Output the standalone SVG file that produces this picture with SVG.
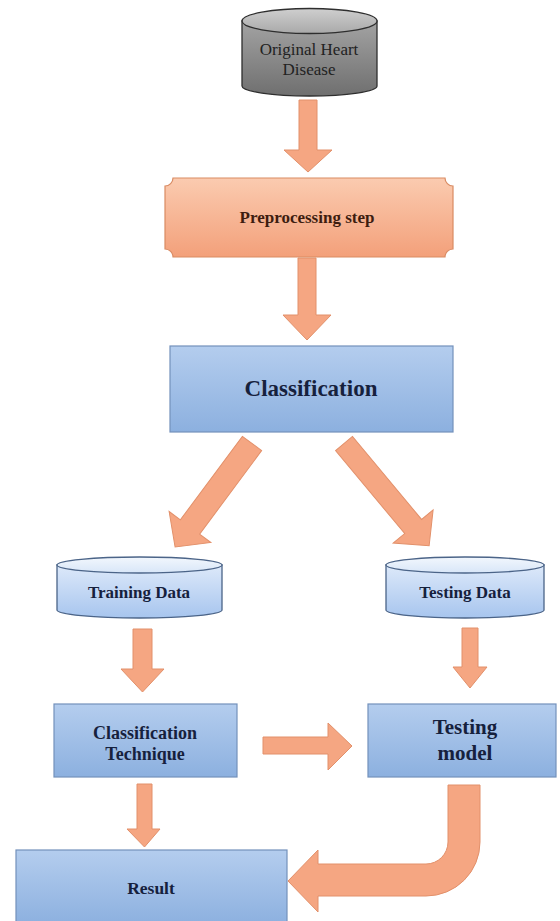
<svg xmlns="http://www.w3.org/2000/svg" width="560" height="921" viewBox="0 0 560 921">
<defs>
<linearGradient id="grayBody" x1="0" y1="0" x2="0" y2="1"><stop offset="0" stop-color="#a3a3a3"/><stop offset="1" stop-color="#6f6f6f"/></linearGradient>
<linearGradient id="grayTop" x1="0" y1="0" x2="0" y2="1"><stop offset="0" stop-color="#cfcfcf"/><stop offset="1" stop-color="#a9a9a9"/></linearGradient>
<linearGradient id="orange" x1="0" y1="0" x2="0" y2="1"><stop offset="0" stop-color="#fbcbb0"/><stop offset="1" stop-color="#f3a07a"/></linearGradient>
<linearGradient id="blueBox" x1="0" y1="0" x2="0" y2="1"><stop offset="0" stop-color="#b4cdee"/><stop offset="1" stop-color="#8cb0df"/></linearGradient>
<linearGradient id="blueCyl" x1="0" y1="0" x2="0" y2="1"><stop offset="0" stop-color="#dde9fa"/><stop offset="1" stop-color="#a7c5ee"/></linearGradient>
<linearGradient id="blueTop" x1="0" y1="0" x2="0" y2="1"><stop offset="0" stop-color="#f2f7fd"/><stop offset="1" stop-color="#d8e6f8"/></linearGradient>
</defs>
<style>
.arrow{fill:#f5a682;stroke:#e2906a;stroke-width:1}
.box{fill:url(#blueBox);stroke:#7391bb;stroke-width:1.2}
.cyl{fill:url(#blueCyl);stroke:#4b6488;stroke-width:1.3}
.cyltop{fill:url(#blueTop);stroke:#4b6488;stroke-width:1.3}
.t{font-family:"Liberation Serif","Times New Roman",serif;text-anchor:middle}
.b{font-weight:bold;fill:#16213d}
</style>
<rect width="560" height="921" fill="#ffffff"/>

<g id="connectors">
<path class="arrow" d="M299,100 H317 V150 H332 L308,172 L284,150 H299 Z"/>
<path class="arrow" d="M298,258 H316 V315 H331 L307,340 L283,315 H298 Z"/>
<path class="arrow" transform="translate(252,443.5) rotate(36.6)" d="M-12,0 H12 V104 H26 L0,129 L-26,104 H-12 Z"/>
<path class="arrow" transform="translate(344,443.5) rotate(-39.8)" d="M-11,0 H11 V108 H26 L0,133 L-26,108 H-11 Z"/>
<path class="arrow" d="M133,629 H152 V669 H164 L142.5,692 L121,669 H133 Z"/>
<path class="arrow" d="M462,628 H478 V667 H487 L470,688 L453,667 H462 Z"/>
<path class="arrow" d="M263,737 H328 V723 L352,746 L328,770 V754 H263 Z"/>
<path class="arrow" d="M137,784 H152 V829 H160 L144.5,847 L127,829 H137 Z"/>
<path class="arrow" d="M448,785 H480 V842 A54 54 0 0 1 426,896 H318 V912 L288,881 L318,850 V864 H426 A22 22 0 0 0 448,842 Z"/>
</g>

<g id="original">
<path d="M242,21 V86 A67.5 10 0 0 0 377,86 V21 Z" fill="url(#grayBody)" stroke="#2e2e2e" stroke-width="1.3"/>
<ellipse cx="309.5" cy="21" rx="67.5" ry="12.5" fill="url(#grayTop)" stroke="#2e2e2e" stroke-width="1.3"/>
<text class="t" x="309" y="55" font-size="17" fill="#222">Original Heart</text>
<text class="t" x="309" y="75" font-size="17" fill="#222">Disease</text>
</g>

<g id="preprocessing">
<path d="M173,178 H445 A8 8 0 0 0 453,186 V249 A8 8 0 0 0 445,257 H173 A8 8 0 0 0 165,249 V186 A8 8 0 0 0 173,178 Z" fill="url(#orange)" stroke="#d98b63" stroke-width="1.2"/>
<text class="t" x="307" y="223" font-size="17" font-weight="bold" fill="#3e1d10">Preprocessing step</text>
</g>

<g id="classification">
<rect class="box" x="170" y="346" width="283" height="86"/>
<text class="t b" x="311" y="396" font-size="23">Classification</text>
</g>

<g id="training">
<path class="cyl" d="M57,565 V610 A82.5 8 0 0 0 222,610 V565 Z"/>
<ellipse class="cyltop" cx="139.5" cy="565" rx="82.5" ry="8"/>
<text class="t b" x="139" y="598" font-size="17">Training Data</text>
</g>

<g id="testing-data">
<path class="cyl" d="M386,565 V610 A79 8 0 0 0 544,610 V565 Z"/>
<ellipse class="cyltop" cx="465" cy="565" rx="79" ry="8"/>
<text class="t b" x="465" y="598" font-size="17">Testing Data</text>
</g>

<g id="technique">
<rect class="box" x="54" y="704" width="183" height="73"/>
<text class="t b" x="145" y="739" font-size="18">Classification</text>
<text class="t b" x="145" y="760" font-size="18">Technique</text>
</g>

<g id="testing-model">
<rect class="box" x="368" y="704" width="188" height="73"/>
<text class="t b" x="465" y="734" font-size="21">Testing</text>
<text class="t b" x="465" y="760" font-size="21">model</text>
</g>

<g id="result">
<rect class="box" x="16" y="850" width="271" height="75"/>
<text class="t b" x="151" y="894" font-size="17.5">Result</text>
</g>
</svg>
